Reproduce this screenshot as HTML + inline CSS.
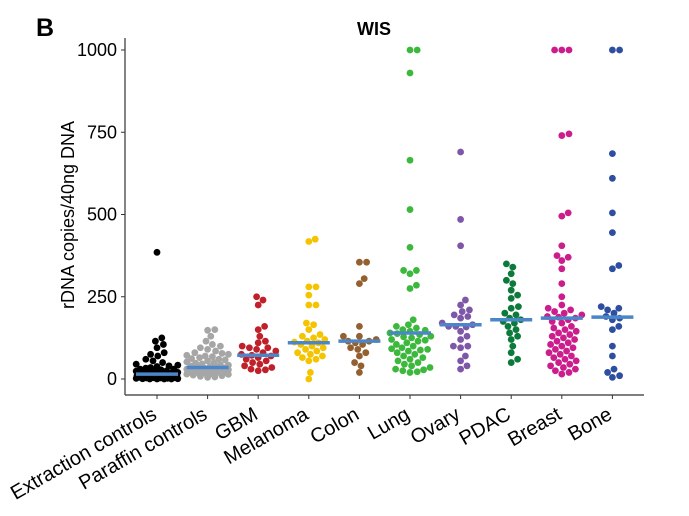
<!DOCTYPE html>
<html><head><meta charset="utf-8"><style>
body{margin:0;background:#fff;}
svg{display:block;font-family:"Liberation Sans",Arial,sans-serif;}
</style></head><body>
<svg id="chart" width="689" height="516" viewBox="0 0 689 516">
<text x="36" y="36" font-size="25" font-weight="bold">B</text>
<text x="374" y="35" font-size="18" font-weight="bold" text-anchor="middle">WIS</text>
<text transform="translate(74,215) rotate(-90)" font-size="18" text-anchor="middle">rDNA copies/40ng DNA</text>
<line x1="125" y1="38" x2="125" y2="395" stroke="#333" stroke-width="1.2"/>
<line x1="125" y1="395" x2="644" y2="395" stroke="#333" stroke-width="1.2"/>
<g id="marks"></g>
</svg>
<script>
const categories=["Extraction controls","Paraffin controls","GBM","Melanoma","Colon","Lung","Ovary","PDAC","Breast","Bone"];
const colors=["#000000","#a6a6a6","#c0202a","#f5c400","#956030","#3cb93c","#7e57a8","#0b7a3a","#cc1d8c","#2e4fa0"];
const yTicks=[0,250,500,750,1000];
const medians=[15,35,72,110,115,140,165,180,185,188];
const extraction=[385,125,115,105,95,80,75,70,60,55,50,45,42,40,38,35,33,30,30,28,26,25,24,22,20,20,18,18,16,15,15,14,13,12,12,11,10,10,9,8,8,7,7,6,6,5,5,5,4,4,3,3,2,2,1,1,0,0,0,0];
const paraffin=[150,148,130,115,105,100,95,90,85,80,78,75,72,70,68,65,62,60,58,55,52,50,48,46,44,42,40,38,36,35,34,33,32,30,30,28,27,26,25,24,22,20,20,18,16,15,14,12,10,8,6,5];
const gbm=[250,240,225,160,150,130,115,110,100,95,95,90,85,80,75,72,70,65,60,55,50,45,40,35,30,28,25];
const melanoma=[425,418,280,280,255,225,225,170,165,150,135,130,125,120,115,112,110,105,100,95,90,85,80,75,70,65,60,55,20,0];
const colon=[355,355,305,290,160,130,130,120,115,115,110,105,95,90,80,70,50,40,20];
const lung=[1000,1000,930,665,515,400,330,330,320,285,275,180,165,160,155,150,148,145,140,138,135,130,128,125,120,118,115,110,105,100,95,92,90,88,85,80,75,70,65,60,55,50,45,40,35,30,28,25,22,20];
const ovary=[690,485,405,240,225,210,205,195,190,185,170,165,160,160,158,145,130,120,100,100,95,70,55,40,30];
const pdac=[350,340,320,300,290,270,255,245,220,215,200,195,185,180,175,170,160,150,140,130,120,100,80,60,50];
const breast=[1000,1000,1000,745,740,505,495,405,375,370,360,335,290,250,225,215,210,205,200,195,190,188,185,180,175,170,160,155,150,145,140,135,130,125,120,115,110,105,100,95,90,85,80,75,70,65,60,55,50,45,40,35,30,25,20,15];
const bone=[1000,1000,685,610,505,445,335,345,220,215,210,200,190,185,180,160,150,100,70,30,20,10,5];
const series=[extraction,paraffin,gbm,melanoma,colon,lung,ovary,pdac,breast,bone];

const NS="http://www.w3.org/2000/svg";
const svg=document.getElementById('chart');
const g=document.getElementById('marks');
function yScale(v){return 379-v*0.329;}
function xScale(i){return 157+i*50.6;}
function mk(t,a){const e=document.createElementNS(NS,t);for(const k in a)e.setAttribute(k,a[k]);return e;}

yTicks.forEach(t=>{
  const y=yScale(t);
  const l=mk('line',{x1:121,x2:125,y1:y,y2:y,stroke:'#333'});
  
  
  svg.appendChild(l);
  const tx=mk('text',{x:117,y:y+6,'font-size':18,'text-anchor':'end'});
  tx.textContent=t;
  
  
  svg.appendChild(tx);
});
categories.forEach((c,i)=>{
  const x=xScale(i);
  const l=mk('line',{x1:x,x2:x,y1:395,y2:399,stroke:'#333'});
  
  
  svg.appendChild(l);
  const tx=mk('text',{transform:`translate(${x+1},${418}) rotate(-30)`,'font-size':20,'text-anchor':'end'});
  tx.textContent=c;
  
  
  svg.appendChild(tx);
});
const r=3.4;
const maxW=21;
series.forEach((vals,i)=>{
  const cx=xScale(i);
  const placed=[];
  [...vals].sort((a,b)=>a-b).forEach(v=>{
    const y=yScale(v);
    let best=0,bestD=-1;
    for(let k=0;k<60;k++){
      const off=(k%2?1:-1)*Math.ceil(k/2)*0.8;
      if(Math.abs(off)>maxW)break;
      let md=Infinity;
      placed.forEach(p=>{md=Math.min(md,Math.hypot(p[0]-(cx+off),p[1]-y));});
      if(md>=2*r*0.98){best=off;break;}
      if(md>bestD){bestD=md;best=off;}
    }
    placed.push([cx+best,y]);
    const c=mk('circle',{cx:cx+best,cy:y,r:r,fill:colors[i]});
    
    
    g.appendChild(c);
  });
  const m=mk('line',{x1:cx-21,x2:cx+21,y1:yScale(medians[i]),y2:yScale(medians[i]),stroke:'#4a86c8','stroke-width':3.5});
  
  
  g.appendChild(m);
});
</script>
</body></html>
